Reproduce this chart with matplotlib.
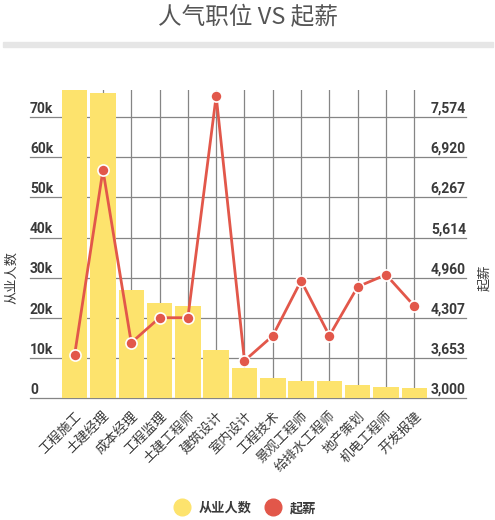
import matplotlib
matplotlib.use('Agg')
import matplotlib.pyplot as plt
from matplotlib.patches import Rectangle
from matplotlib.lines import Line2D
import numpy as np

plt.rcParams['font.family'] = ['Noto Sans CJK SC', 'DejaVu Sans']

# 数据
jobs = ['工程施工', '土建经理', '成本经理', '工程监理', '土建工程师', '建筑设计', '室内设计',
        '工程技术', '景观工程师', '给排水工程师', '地产策划', '机电工程师', '开发报建']
workers = [76700, 76000, 26900, 23800, 23000, 12000, 7600, 5100, 4400, 4400, 3400, 2900, 2600]
salary = [3709, 6711, 3904, 4310, 4310, 7913, 3611, 4017, 4911, 4017, 4814, 5009, 4500]
left_ticks = [0, 10000, 20000, 30000, 40000, 50000, 60000, 70000]
left_labels = ['0', '10k', '20k', '30k', '40k', '50k', '60k', '70k']
right_ticks = [3000, 3653, 4307, 4960, 5614, 6267, 6920, 7574]

yellow = '#fde36d'
red = '#e2574a'
grid_c = '#858585'
txt_c = '#3a3a3a'

fig = plt.figure(figsize=(4.95, 5.2), dpi=100)
ax = fig.add_axes([0.1222, 0.234, 0.7434, 0.593])
ax2 = ax.twinx()

x = np.arange(len(jobs))
ax.set_xlim(-0.5, len(jobs) - 0.5)
ax.set_ylim(0, max(workers))
# 右轴与左轴网格对齐
ax2.set_ylim(3000, 3000 + max(workers) * (right_ticks[-1] - 3000) / left_ticks[-1])

# 网格线（延伸到刻度标签下方）
x0 = (30 - 60.5) / 368
x1 = (466 - 60.5) / 368
for t in left_ticks:
    ax.axhline(t, xmin=x0, xmax=x1, color=grid_c, lw=0.9, clip_on=False, zorder=0)
for xi in x:
    ax.axvline(xi, color=grid_c, lw=0.9, zorder=0)

ax.bar(x, workers, width=0.9, color=yellow, zorder=2)
ax2.plot(x, salary, color=red, lw=2, marker='o', markersize=8,
         markerfacecolor=red, markeredgecolor='white', markeredgewidth=1.2, zorder=3)

for a in (ax, ax2):
    for s in a.spines.values():
        s.set_visible(False)
    a.set_yticks([])
    a.tick_params(length=0)

ax.set_xticks(x)
ax.set_xticklabels(jobs, rotation=45, ha='right', va='top', rotation_mode='anchor',
                   fontsize=9.5, color=txt_c)
ax.tick_params(axis='x', pad=8)

# 刻度标签（位于网格线上方）
trans_l = ax.get_yaxis_transform()
for t, lab in zip(left_ticks, left_labels):
    ax.text(x0, t, lab + '\n', transform=trans_l, ha='left', va='center', fontsize=10,
            fontweight='bold', color=txt_c, family=['Roboto', 'DejaVu Sans'], linespacing=1.25)
trans_r = ax2.get_yaxis_transform()
for t in right_ticks:
    ax2.text(x1, t, f'{t:,}' + '\n', transform=trans_r, ha='right', va='center', fontsize=10,
             fontweight='bold', color=txt_c, family=['Roboto', 'DejaVu Sans'], linespacing=1.25)

fig.text(12 / 495, 1 - 278 / 520, '从业人数', rotation=90, ha='center', va='center',
         fontsize=9.5, color=txt_c)
fig.text(485 / 495, 1 - 278 / 520, '起薪', rotation=90, ha='center', va='center',
         fontsize=9.5, color=txt_c)

# 标题和分隔条
fig.text(0.5, 1 - 18 / 520, '人气职位 VS 起薪', ha='center', va='center', fontsize=17,
         color='#555555')
fig.patches.append(Rectangle((3 / 495, 1 - 47 / 520), 490 / 495, 5 / 520,
                             transform=fig.transFigure, color='#e6e6e6'))

# 图例
handles = [Line2D([], [], ls='', marker='o', markersize=12, color=yellow),
           Line2D([], [], ls='', marker='o', markersize=12, color=red)]
leg = fig.legend(handles, ['从业人数', '起薪'], loc='center', bbox_to_anchor=(0.49, 1 - 508 / 520),
                 ncol=2, frameon=False, handletextpad=0.3, columnspacing=0.6,
                 prop={'size': 9.5, 'weight': 'bold'})
for t in leg.get_texts():
    t.set_color(txt_c)

fig.savefig('out.png', dpi=100)
